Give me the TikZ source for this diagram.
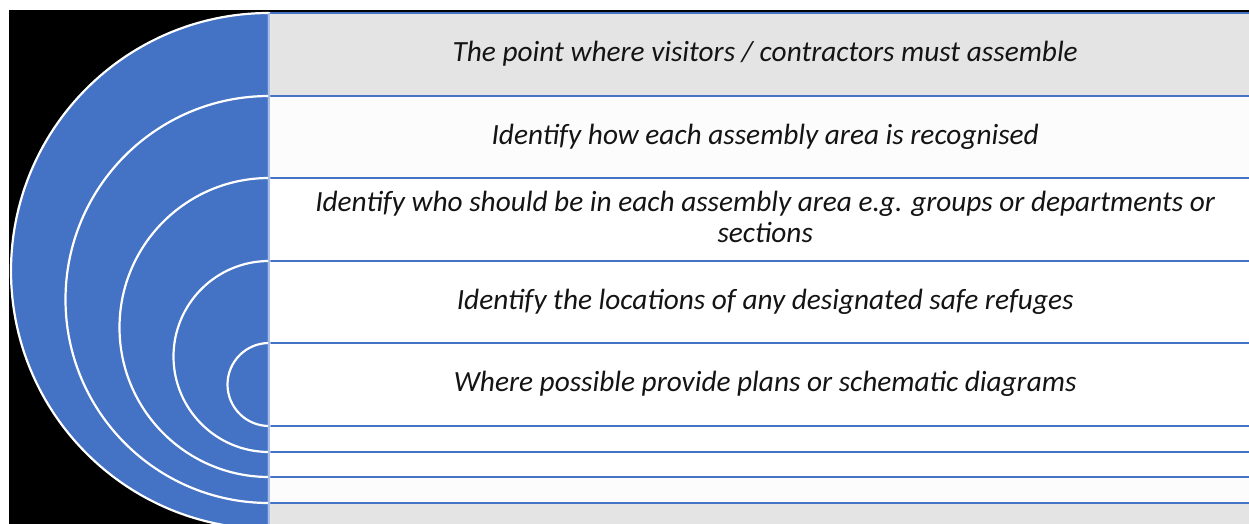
\documentclass[tikz,border=0pt]{standalone}
\usepackage{fontspec}
\setmainfont{Carlito}
\usetikzlibrary{positioning}
\definecolor{ringblue}{HTML}{4472C4}
\definecolor{rowgrey}{HTML}{E4E4E4}
\definecolor{rowpale}{HTML}{FCFCFC}
\definecolor{edgeblue}{HTML}{A9BEE6}
\begin{document}
\begin{tikzpicture}[x=1pt, y=-1pt, line join=round]
  \tikzstyle{ring}=[fill=ringblue, draw=white, line width=2.2pt]
  \tikzstyle{row}=[rectangle, minimum width=983pt, inner sep=0pt, anchor=north west]
  \tikzstyle{row_line}=[draw=ringblue, line width=2.6pt]
  \tikzstyle{row_text}=[font=\itshape\fontsize{29.3}{31}\selectfont, text=black!92, align=center, anchor=base]
  \useasboundingbox (0,0) rectangle (1249,524);
  \fill[black] (9,10) rectangle (1260,530);

  % rows of the table
  \node[row, fill=rowgrey, minimum height=83pt] (r1) at (269,13)  {};
  \node[row, fill=rowpale, minimum height=82pt] (r2) at (269,96)  {};
  \node[row, fill=white,   minimum height=83pt] (r3) at (269,178) {};
  \node[row, fill=white,   minimum height=82pt] (r4) at (269,261) {};
  \node[row, fill=white,   minimum height=83pt] (r5) at (269,343) {};
  \node[row, fill=white,   minimum height=26pt] (r6) at (269,426) {};
  \node[row, fill=white,   minimum height=25pt] (r7) at (269,452) {};
  \node[row, fill=rowpale, minimum height=26pt] (r8) at (269,477) {};
  \node[row, fill=rowgrey, minimum height=30pt] (r9) at (269,503) {};

  \path[row_line] (r1.north west) -- (r1.north east)
        (r2.north west) -- (r2.north east)
        (r3.north west) -- (r3.north east)
        (r4.north west) -- (r4.north east)
        (r5.north west) -- (r5.north east)
        (r6.north west) -- (r6.north east)
        (r7.north west) -- (r7.north east)
        (r8.north west) -- (r8.north east)
        (r9.north west) -- (r9.north east);

  % nested half circles
  \path[ring] (r1.north west) arc (270:90:258)   -- cycle;
  \path[ring] (r2.north west) arc (270:90:203.5) -- cycle;
  \path[ring] (r3.north west) arc (270:90:149.5) -- cycle;
  \path[ring] (r4.north west) arc (270:90:95.5)  -- cycle;
  \path[ring] (r5.north west) arc (270:90:41.5)  -- cycle;
  \draw[edgeblue, line width=1.5pt] (r1.north west) -- (r9.south west);

  \node[row_text] (t1) at ([xshift=4.5pt, yshift=-7pt]r1.center) {The point where visitors / contractors must assemble};
  \node[row_text] (t2) at ([xshift=4.5pt, yshift=-7pt]r2.center) {Identify how each assembly area is recognised};
  \node[row_text] (t3) at ([xshift=4.5pt, yshift=-22.5pt]r3.center) {Identify who should be in each assembly area e.g. groups or departments or\\sections};
  \node[row_text] (t4) at ([xshift=4.5pt, yshift=-7pt]r4.center) {Identify the locations of any designated safe refuges};
  \node[row_text] (t5) at ([xshift=4.5pt, yshift=-7pt]r5.center) {Where possible provide plans or schematic diagrams};
\end{tikzpicture}
\end{document}
